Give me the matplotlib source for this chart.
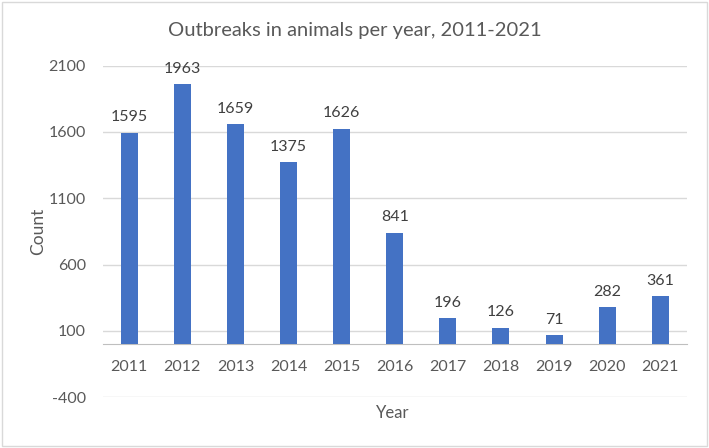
import matplotlib.pyplot as plt
import numpy as np

plt.rcParams['font.family'] = ['Lato', 'DejaVu Sans']

years = ['2011', '2012', '2013', '2014', '2015', '2016', '2017', '2018', '2019', '2020', '2021']
counts = [1595, 1963, 1659, 1375, 1626, 841, 196, 126, 71, 282, 361]
y_ticks = [-400, 100, 600, 1100, 1600, 2100]

text_col = '#595959'
grid_col = '#D9D9D9'
bar_col = '#4472C4'

fig = plt.figure(figsize=(7.09, 4.48), dpi=100)
ax = fig.add_axes([0.1449, 0.1132, 0.8237, 0.7402])

x = np.arange(len(years))
ax.bar(x, counts, width=0.32, color=bar_col, zorder=3)

for xi, c in zip(x, counts):
    ax.annotate(str(c), (xi, c), xytext=(0, 11), textcoords='offset points',
                ha='center', va='center', fontsize=11.5, color='#404040')

ax.set_ylim(-400, 2100)
ax.set_xlim(-0.5, len(years) - 0.5)
ax.set_yticks(y_ticks)
ax.set_yticklabels([str(t) for t in y_ticks])
ax.set_xticks(x)
ax.set_xticklabels(years)

ax.grid(axis='y', color=grid_col, linewidth=1, zorder=0)
ax.spines['bottom'].set_position(('data', 0))
ax.spines['bottom'].set_color('#BFBFBF')
for s in ['top', 'right', 'left']:
    ax.spines[s].set_visible(False)

ax.tick_params(axis='x', length=0, pad=11, labelsize=11.5, colors=text_col)
ax.tick_params(axis='y', length=0, pad=12, labelsize=11.5, colors=text_col)

fig.text(0.5, 0.933, 'Outbreaks in animals per year, 2011-2021', ha='center', va='center',
         fontsize=14.5, color=text_col)
fig.text(0.054, 0.484, 'Count', rotation=90, ha='center', va='center', fontsize=12.5, color=text_col)
fig.text(0.554, 0.078, 'Year', ha='center', va='center', fontsize=12, color=text_col)

# chart border
fig.patches.append(plt.Rectangle((0.003, 0.004), 0.994, 0.992, transform=fig.transFigure,
                                 fill=False, edgecolor='#D9D9D9', linewidth=1))

plt.savefig('out.png', dpi=100)
